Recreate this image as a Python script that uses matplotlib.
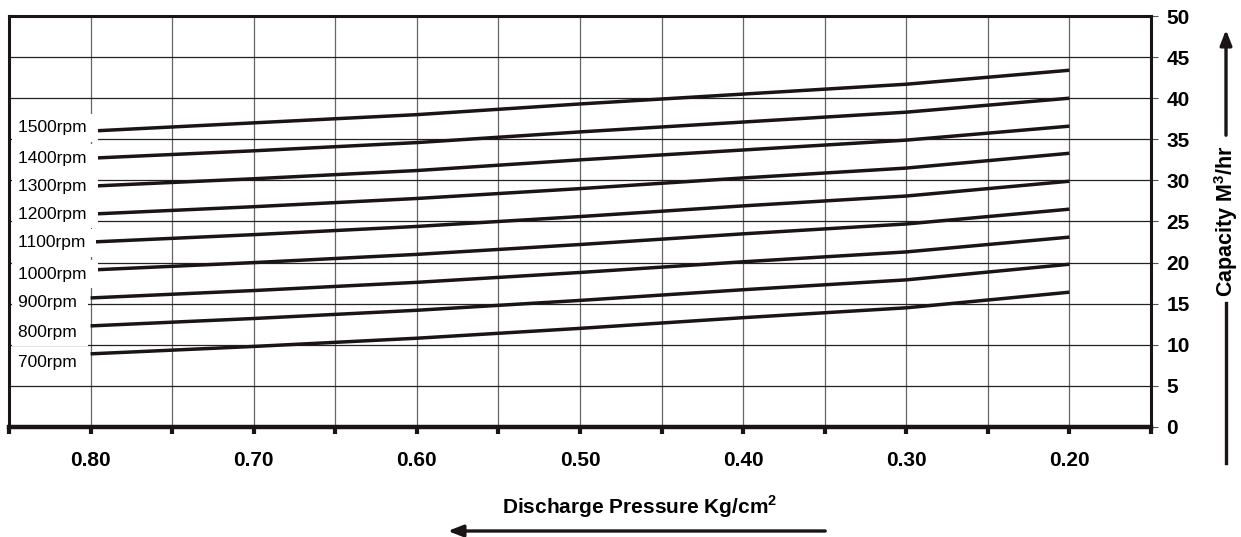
import numpy as np
import matplotlib.pyplot as plt

plt.rcParams['font.family'] = ['Liberation Sans', 'DejaVu Sans']

# Données (pression de refoulement -> débit)
pression = [0.80, 0.70, 0.60, 0.50, 0.40, 0.30, 0.20]
vitesses = ['1500rpm', '1400rpm', '1300rpm', '1200rpm', '1100rpm',
            '1000rpm', '900rpm', '800rpm', '700rpm']
q1500 = [36.0, 37.0, 38.0, 39.3, 40.5, 41.7, 43.4]
q1400 = [32.7, 33.6, 34.6, 35.9, 37.1, 38.3, 40.0]
q1300 = [29.3, 30.2, 31.2, 32.5, 33.7, 34.9, 36.6]
q1200 = [25.9, 26.8, 27.8, 29.0, 30.3, 31.5, 33.3]
q1100 = [22.5, 23.4, 24.4, 25.6, 26.9, 28.1, 29.9]
q1000 = [19.1, 20.0, 21.0, 22.2, 23.5, 24.7, 26.5]
q900 = [15.7, 16.6, 17.6, 18.8, 20.1, 21.3, 23.1]
q800 = [12.3, 13.2, 14.2, 15.4, 16.7, 17.9, 19.8]
q700 = [8.9, 9.8, 10.8, 12.0, 13.3, 14.5, 16.4]
courbes = [q1500, q1400, q1300, q1200, q1100, q1000, q900, q800, q700]

x_ticks = [0.85, 0.80, 0.75, 0.70, 0.65, 0.60, 0.55, 0.50, 0.45,
           0.40, 0.35, 0.30, 0.25, 0.20, 0.15]
x_labels = ['', '0.80', '', '0.70', '', '0.60', '', '0.50', '',
            '0.40', '', '0.30', '', '0.20', '']
y_ticks = [0, 5, 10, 15, 20, 25, 30, 35, 40, 45, 50]

# hauteur des étiquettes (position de mise en page)
label_y = [36.4, 32.7, 29.3, 25.9, 22.4, 18.6, 15.1, 11.5, 7.9]

fig = plt.figure(figsize=(12.41, 5.37), dpi=100)
ax = fig.add_axes([9/1241, 1 - 427/537, (1151 - 9)/1241, (427 - 16)/537])

for q in courbes:
    ax.plot(pression, q, color='#1a1414', linewidth=2.5, solid_capstyle='butt', zorder=3)

# étiquettes sur fond blanc, qui masquent le début des courbes
# (l'espace final élargit la boîte vers la droite)
for nom, yl in zip(vitesses, label_y):
    ax.text(0.8445, yl, nom + ' ', fontsize=12.5, ha='left', va='center', zorder=5,
            bbox=dict(facecolor='white', edgecolor='none', pad=4.5))

ax.set_xlim(0.85, 0.15)
ax.set_ylim(0, 50)
ax.set_xticks(x_ticks)
ax.set_xticklabels(x_labels, fontsize=15, fontweight='bold')
ax.set_yticks(y_ticks)
ax.yaxis.tick_right()
ax.set_yticklabels([str(v) for v in y_ticks], fontsize=15, fontweight='bold')

ax.grid(True, axis='y', color='#222222', linewidth=0.9, zorder=1)
ax.grid(True, axis='x', color='#666666', linewidth=0.9, zorder=1)
ax.set_axisbelow(True)

ax.tick_params(axis='x', direction='out', length=5, width=3, color='#1a1414', pad=12)
ax.tick_params(axis='y', direction='out', length=5, width=0.8, color='#555555', pad=6)
for side in ['top', 'left', 'right']:
    ax.spines[side].set_linewidth(2.2)
    ax.spines[side].set_color('#1a1414')
ax.spines['bottom'].set_linewidth(3.2)
ax.spines['bottom'].set_color('#1a1414')

# Titres d'axes avec flèches (coordonnées figure en pixels)
fig.text(640/1241, 1 - 507/537, 'Discharge Pressure Kg/cm$^{\\mathregular{2}}$',
         fontsize=15, fontweight='bold', ha='center', va='center')
ax.annotate('', xy=(445/1241, 1 - 531/537), xytext=(828/1241, 1 - 531/537),
            xycoords='figure fraction', textcoords='figure fraction',
            arrowprops=dict(arrowstyle='-|>,head_length=0.9,head_width=0.35',
                            color='#1a1414', lw=2.4))

fig.text(1226/1241, 1 - 221/537, 'Capacity M$^{\\mathregular{3}}$/hr',
         fontsize=15.5, fontweight='bold', ha='center', va='center', rotation=90)
ax.annotate('', xy=(1226/1241, 1 - 27/537), xytext=(1226/1241, 1 - 138/537),
            xycoords='figure fraction', textcoords='figure fraction',
            arrowprops=dict(arrowstyle='-|>,head_length=0.9,head_width=0.35',
                            color='#1a1414', lw=2.4))
fig.add_artist(plt.Line2D([1226/1241, 1226/1241], [1 - 303/537, 1 - 463/537],
                          color='#1a1414', linewidth=2.4))

fig.savefig('out.png', dpi=100)
